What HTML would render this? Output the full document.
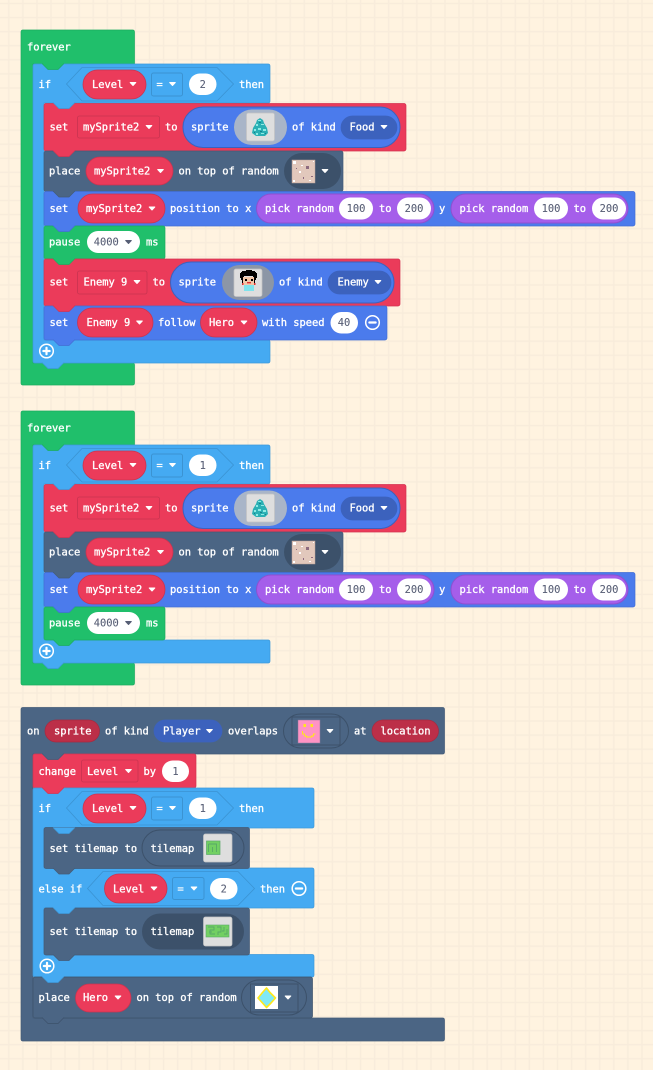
<!DOCTYPE html>
<html><head><meta charset="utf-8"><style>
html,body{margin:0;padding:0;background:#fff3e0}
svg{display:block}
text{font-family:"DejaVu Sans Mono","Liberation Mono",monospace;font-weight:normal;font-size:10.4px;fill:#fff;stroke:#fff;stroke-width:.32px}
text.d{fill:#575e75;stroke:#575e75;stroke-width:.1px;text-anchor:middle}
.G{fill:#20bf6b;stroke:#1dac60;stroke-width:.7}
.L{fill:#45aaf2;stroke:#3e99da;stroke-width:.7}
.R{fill:#eb3b5a;stroke:#d33551;stroke-width:.7}
.S{fill:#4b6584;stroke:#435b77;stroke-width:.7}
.B{fill:#4b7bec;stroke:#436fd4;stroke-width:.7}
.P{fill:#a55eea;stroke:#8f4fd0;stroke-width:1}
.DR{fill:#eb3b5a;stroke:#c93450;stroke-width:.8}
.W{fill:#fff}
.SB{fill:#4b7bec;stroke:#3c62bd;stroke-width:1}
.KB{fill:#3c62bd;stroke:#3c62bd;stroke-width:.7}
.DS{fill:#3c516a}
.OS{fill:none;stroke:#3c516a;stroke-width:1}
.IMG{fill:#dedede;stroke:#c4c4c4;stroke-width:.7}
.HX{fill:#45aaf2;stroke:#3b93d2;stroke-width:.8}
.DL{fill:#45aaf2;stroke:#3b93d2;stroke-width:1}
</style></head><body>
<svg width="653" height="1070" viewBox="0 0 653 1070" xmlns="http://www.w3.org/2000/svg">
<defs>
<pattern id="grid" x="8.8" y="3.5" width="14.07" height="14.07" patternUnits="userSpaceOnUse">
<rect x="-.75" y="0" width="1.5" height="14.07" fill="#f8ecdb"/><rect x="13.32" y="0" width="1.5" height="14.07" fill="#f8ecdb"/>
<rect x="0" y="-.75" width="14.07" height="1.5" fill="#f8ecdb"/><rect x="0" y="13.32" width="14.07" height="1.5" fill="#f8ecdb"/>
</pattern>
<path id="c" d="M-2.8 -1.5h5.6l-2.8 3z" fill="#fff" stroke="#fff" stroke-width="1" stroke-linejoin="round"/>
<path id="k" d="M-2.8 -1.5h5.6l-2.8 3z" fill="#575e75" stroke="#575e75" stroke-width="1" stroke-linejoin="round"/>
<path id="t" d="M0 -.5l6 6h10l6 -6"/>
<g id="food">
<rect x="246.5" y="113" width="28" height="28" rx="2" class="IMG"/>
<polygon points="260,118 263,120 264,123 267,128 268,133 265,136 256,136 252,133 253,128 256,123 257,120" fill="#2ab0b4"/>
<path d="M258 120h3v1h-3zM256 124h2v2h-2zM261 124h3v1h-3zM254 129h2v2h-2zM258 128h3v2h-3zM263 129h3v2h-3zM256 133h2v2h-2zM261 133h3v1h-3z" fill="#8deae4"/>
<path d="M259 122h2v1h-2zM254 132h1v1h-1zM260 131h2v1h-2zM265 133h1v1h-1z" fill="#15808c"/>
</g>
<g id="tile">
<rect x="292" y="160" width="23" height="23" fill="#e2c8bc" stroke="#b9a297" stroke-width=".5"/>
<path d="M293 161h3v3h-3zM301 165h2v1h-2zM293 180h2v2h-2zM309 180h2v1h-2zM299 171h2v2h-2zM313 161h1v1h-1z" fill="#fff"/>
<path d="M306 166h3v3h-3zM296 168h1v1h-1zM303 177h1v2h-1zM311 176h2v1h-2z" fill="#8e6b80"/>
</g>
<g id="minus"><circle r="6.8" fill="none" stroke="#fff" stroke-width="1.5"/><rect x="-4.2" y="-1.1" width="8.4" height="2.2" rx="1" fill="#fff"/></g>
<g id="plus"><circle r="6.8" fill="none" stroke="#fff" stroke-width="1.5"/><rect x="-4.2" y="-1.1" width="8.4" height="2.2" rx="1" fill="#fff"/><rect x="-1.1" y="-4.2" width="2.2" height="8.4" rx="1" fill="#fff"/></g>
</defs>
<rect width="653" height="1070" fill="#fff3e0"/>
<rect width="653" height="1070" fill="url(#grid)"/>

<!-- FOREVER 1 -->
<path class="G" d="M23 30H132.5q2 0 2 2V64H33V363H132.5q2 0 2 2V383q0 2-2 2H23q-2 0-2-2V32q0-2 2-2z"/>
<path class="L" d="M35 64H268q2 0 2 2V101q0 2-2 2H44V340H268q2 0 2 2V361q0 2-2 2H35q-2 0-2-2V66q0-2 2-2z"/>
<rect x="44" y="103.5" width="362" height="47.5" rx="2" class="R"/>
<rect x="44" y="151" width="299" height="40.5" rx="2" class="S"/>
<rect x="44" y="191.5" width="591" height="34.5" rx="2" class="B"/>
<rect x="44" y="226" width="121" height="33" rx="2" class="G"/>
<rect x="44" y="259" width="356" height="47" rx="2" class="R"/>
<rect x="44" y="306" width="343" height="34" rx="2" class="B"/>
<use href="#t" x="42" y="64" class="G"/>
<use href="#t" x="53" y="103" class="L"/>
<use href="#t" x="53" y="151" class="R"/>
<use href="#t" x="53" y="191.5" class="S"/>
<use href="#t" x="53" y="226" class="B"/>
<use href="#t" x="53" y="259" class="G"/>
<use href="#t" x="53" y="306" class="R"/>
<use href="#t" x="53" y="340" class="B"/>
<use href="#t" x="42" y="363" class="L"/>
<text x="27" y="50.5">forever</text>
<text x="38.5" y="88">if</text>
<polygon class="HX" points="66.5,84 82,67.5 217,67.5 233.5,84 217,101 82,101"/>
<rect x="83" y="70" width="63" height="29" rx="14.5" class="DR"/>
<text x="92" y="88">Level</text><use href="#c" x="133" y="84"/>
<rect x="151.5" y="73" width="31" height="23" rx="2" class="DL"/>
<text x="156.5" y="88">=</text><use href="#c" x="172.5" y="84"/>
<rect x="189" y="73.5" width="27.5" height="21.5" rx="10.7" class="W"/>
<text class="d" x="202.7" y="88">2</text>
<text x="239" y="88">then</text>
<text x="49.5" y="130.5">set</text>
<rect x="77.5" y="116" width="82" height="22" rx="2" class="DR"/>
<text x="83" y="130.5">mySprite2</text><use href="#c" x="149" y="127"/>
<text x="165" y="130.5">to</text>
<rect x="183" y="107" width="217" height="40.5" rx="20" class="SB"/>
<text x="191" y="130.5">sprite</text>
<rect x="234" y="109.5" width="53" height="35.5" rx="17.7" fill="#a9b5c8"/>
<use href="#food"/>
<text x="292" y="130.5">of kind</text>
<rect x="341" y="116" width="56" height="23" rx="11.5" class="KB"/>
<text x="349.5" y="130.5">Food</text><use href="#c" x="384" y="127"/>
<text x="49" y="174.5">place</text>
<rect x="86" y="157" width="87" height="28" rx="14" class="DR"/>
<text x="94" y="174.5">mySprite2</text><use href="#c" x="160.5" y="171"/>
<text x="178.5" y="174.5">on top of random</text>
<rect x="284" y="153" width="57" height="36" rx="18" class="DS"/>
<use href="#tile"/><use href="#c" x="325" y="171"/>
<text x="49.5" y="212">set</text>
<rect x="78" y="194" width="87" height="29" rx="14.5" class="DR"/>
<text x="86" y="212">mySprite2</text><use href="#c" x="152" y="208.5"/>
<text x="170" y="212">position to x</text>
<rect x="256.5" y="194" width="177.5" height="29" rx="14.5" class="P"/>
<text x="265" y="212">pick random</text>
<rect x="339" y="197.5" width="34" height="22" rx="11" class="W"/><text class="d" x="356" y="212">100</text>
<text x="379" y="212">to</text>
<rect x="397" y="197.5" width="34" height="22" rx="11" class="W"/><text class="d" x="414" y="212">200</text>
<text x="439" y="212">y</text>
<rect x="451" y="194" width="177" height="29" rx="14.5" class="P"/>
<text x="459.5" y="212">pick random</text>
<rect x="534" y="197.5" width="34" height="22" rx="11" class="W"/><text class="d" x="551" y="212">100</text>
<text x="573.5" y="212">to</text>
<rect x="592" y="197.5" width="34" height="22" rx="11" class="W"/><text class="d" x="609" y="212">200</text>
<text x="49" y="245.5">pause</text>
<rect x="87" y="231" width="53" height="22" rx="11" class="W"/>
<text class="d" x="106.3" y="245.5">4000</text><use href="#k" x="128.5" y="242"/>
<text x="146" y="245.5">ms</text>
<text x="49.5" y="285.5">set</text>
<rect x="77.5" y="271" width="69.5" height="23" rx="2" class="DR"/>
<text x="83.5" y="285.5">Enemy 9</text><use href="#c" x="137" y="282"/>
<text x="152.5" y="285.5">to</text>
<rect x="170.5" y="262" width="223.5" height="41" rx="20.5" class="SB"/>
<text x="178.5" y="285.5">sprite</text>
<rect x="222" y="265" width="52" height="35" rx="17.5" fill="#8c96a6"/>
<rect x="234" y="269" width="28" height="27.5" rx="2" class="IMG"/>
<path d="M243 271h3v-1h6v1h3v1h1v1h1v5h-1v2h-1v3h-1v-6h-1v-1h-9v1h-1v6h-1v-3h-1v-2h-1v-5h1v-1h1v-1h2z" fill="#000"/>
<rect x="243" y="277" width="11" height="8" fill="#f2c6a8"/>
<rect x="245" y="279" width="2" height="2" fill="#000"/><rect x="251" y="279" width="2" height="2" fill="#000"/>
<rect x="247" y="282" width="4" height="1.4" fill="#e03030"/>
<rect x="242" y="283" width="1.5" height="2" fill="#e03030"/><rect x="254" y="283" width="1.5" height="2" fill="#e03030"/>
<rect x="244" y="285" width="10" height="6" fill="#7fe3ec"/>
<text x="279" y="285.5">of kind</text>
<rect x="328" y="271" width="63" height="23" rx="11.5" class="KB"/>
<text x="337.5" y="285.5">Enemy</text><use href="#c" x="378" y="282"/>
<text x="49.5" y="326">set</text>
<rect x="77.5" y="308" width="75.5" height="29" rx="14.5" class="DR"/>
<text x="86.5" y="326">Enemy 9</text><use href="#c" x="139.5" y="322.5"/>
<text x="158" y="326">follow</text>
<rect x="200.5" y="308" width="56.5" height="29" rx="14.5" class="DR"/>
<text x="209" y="326">Hero</text><use href="#c" x="244" y="322.5"/>
<text x="262" y="326">with speed</text>
<rect x="330.5" y="312" width="27.5" height="21.5" rx="10.7" class="W"/>
<text class="d" x="344" y="326">40</text>
<use href="#minus" x="372.5" y="322.5"/>
<use href="#plus" x="46.5" y="351"/>

<!-- FOREVER 2 -->
<path class="G" d="M23 411H132.5q2 0 2 2V445H33V663H132.5q2 0 2 2V683q0 2-2 2H23q-2 0-2-2V413q0-2 2-2z"/>
<path class="L" d="M35 445H268q2 0 2 2V482q0 2-2 2H44V640H268q2 0 2 2V661q0 2-2 2H35q-2 0-2-2V447q0-2 2-2z"/>
<g transform="translate(0,381)">
<rect x="44" y="103.5" width="362" height="47.5" rx="2" class="R"/>
<rect x="44" y="151" width="299" height="40.5" rx="2" class="S"/>
<rect x="44" y="191.5" width="591" height="34.5" rx="2" class="B"/>
<rect x="44" y="226" width="121" height="33" rx="2" class="G"/>
<use href="#t" x="42" y="64" class="G"/>
<use href="#t" x="53" y="103" class="L"/>
<use href="#t" x="53" y="151" class="R"/>
<use href="#t" x="53" y="191.5" class="S"/>
<use href="#t" x="53" y="226" class="B"/>
<use href="#t" x="53" y="259" class="G"/>
<use href="#t" x="42" y="282" class="L"/>
<text x="27" y="50.5">forever</text>
<text x="38.5" y="88">if</text>
<polygon class="HX" points="66.5,84 82,67.5 217,67.5 233.5,84 217,101 82,101"/>
<rect x="83" y="70" width="63" height="29" rx="14.5" class="DR"/>
<text x="92" y="88">Level</text><use href="#c" x="133" y="84"/>
<rect x="151.5" y="73" width="31" height="23" rx="2" class="DL"/>
<text x="156.5" y="88">=</text><use href="#c" x="172.5" y="84"/>
<rect x="189" y="73.5" width="27.5" height="21.5" rx="10.7" class="W"/>
<text class="d" x="202.7" y="88">1</text>
<text x="239" y="88">then</text>
<text x="49.5" y="130.5">set</text>
<rect x="77.5" y="116" width="82" height="22" rx="2" class="DR"/>
<text x="83" y="130.5">mySprite2</text><use href="#c" x="149" y="127"/>
<text x="165" y="130.5">to</text>
<rect x="183" y="107" width="217" height="40.5" rx="20" class="SB"/>
<text x="191" y="130.5">sprite</text>
<rect x="234" y="109.5" width="53" height="35.5" rx="17.7" fill="#a9b5c8"/>
<use href="#food"/>
<text x="292" y="130.5">of kind</text>
<rect x="341" y="116" width="56" height="23" rx="11.5" class="KB"/>
<text x="349.5" y="130.5">Food</text><use href="#c" x="384" y="127"/>
<text x="49" y="174.5">place</text>
<rect x="86" y="157" width="87" height="28" rx="14" class="DR"/>
<text x="94" y="174.5">mySprite2</text><use href="#c" x="160.5" y="171"/>
<text x="178.5" y="174.5">on top of random</text>
<rect x="284" y="153" width="57" height="36" rx="18" class="DS"/>
<use href="#tile"/><use href="#c" x="325" y="171"/>
<text x="49.5" y="212">set</text>
<rect x="78" y="194" width="87" height="29" rx="14.5" class="DR"/>
<text x="86" y="212">mySprite2</text><use href="#c" x="152" y="208.5"/>
<text x="170" y="212">position to x</text>
<rect x="256.5" y="194" width="177.5" height="29" rx="14.5" class="P"/>
<text x="265" y="212">pick random</text>
<rect x="339" y="197.5" width="34" height="22" rx="11" class="W"/><text class="d" x="356" y="212">100</text>
<text x="379" y="212">to</text>
<rect x="397" y="197.5" width="34" height="22" rx="11" class="W"/><text class="d" x="414" y="212">200</text>
<text x="439" y="212">y</text>
<rect x="451" y="194" width="177" height="29" rx="14.5" class="P"/>
<text x="459.5" y="212">pick random</text>
<rect x="534" y="197.5" width="34" height="22" rx="11" class="W"/><text class="d" x="551" y="212">100</text>
<text x="573.5" y="212">to</text>
<rect x="592" y="197.5" width="34" height="22" rx="11" class="W"/><text class="d" x="609" y="212">200</text>
<text x="49" y="245.5">pause</text>
<rect x="87" y="231" width="53" height="22" rx="11" class="W"/>
<text class="d" x="106.3" y="245.5">4000</text><use href="#k" x="128.5" y="242"/>
<text x="146" y="245.5">ms</text>
<use href="#plus" x="46.5" y="270"/>
</g>

<!-- ON OVERLAP -->
<path class="S" d="M23 707.5H442.5q2 0 2 2V752q0 2-2 2H33V1018H442.5q2 0 2 2V1039q0 2-2 2H23q-2 0-2-2V709.5q0-2 2-2z"/>
<rect x="33" y="754" width="163" height="34" rx="2" class="R"/>
<path class="L" d="M35 788H312q2 0 2 2V826q0 2-2 2H44V868H312q2 0 2 2V906q0 2-2 2H44V954.5H312q2 0 2 2V975q0 2-2 2H35q-2 0-2-2V790q0-2 2-2z"/>
<rect x="44" y="827.5" width="205.5" height="41" rx="2" class="S"/>
<rect x="44" y="908" width="205.5" height="47" rx="2" class="S"/>
<rect x="33" y="977" width="279.5" height="41" rx="2" class="S" style="stroke:#3c516a"/>
<use href="#t" x="42" y="754" class="S"/>
<use href="#t" x="42" y="788" class="R"/>
<use href="#t" x="53" y="828" class="L"/>
<use href="#t" x="53" y="868.5" class="S"/>
<use href="#t" x="53" y="908" class="L"/>
<use href="#t" x="53" y="955" class="S"/>
<use href="#t" x="42" y="977" class="L"/>
<use href="#t" x="42" y="1018" class="S" style="stroke:#3c516a"/>
<text x="27" y="734.5">on</text>
<rect x="45" y="720" width="54.5" height="22" rx="11" fill="#bc2f48" stroke="#a8293f" stroke-width=".7"/>
<text x="54" y="734.5">sprite</text>
<text x="105" y="734.5">of kind</text>
<rect x="154" y="720" width="68" height="22" rx="11" class="KB"/>
<text x="163" y="734.5">Player</text><use href="#c" x="209.5" y="731"/>
<text x="228" y="734.5">overlaps</text>
<rect x="283.5" y="714" width="65" height="34" rx="17" class="OS"/>
<rect x="292" y="717" width="48" height="28" class="OS"/>
<rect x="298" y="720" width="22" height="23" fill="#ff93c4" stroke="#8a7a9a" stroke-width=".5"/>
<rect x="303.5" y="724" width="2.5" height="3" fill="#ffe81a"/><rect x="310.5" y="724" width="2.5" height="3" fill="#ffe81a"/>
<path d="M302.5 731v3h2v2h2v1h5v-1h2v-2h2" fill="none" stroke="#ffe81a" stroke-width="1"/>
<use href="#c" x="330" y="731"/>
<text x="354" y="734.5">at</text>
<rect x="372" y="720" width="66.5" height="22" rx="11" fill="#bc2f48" stroke="#a8293f" stroke-width=".7"/>
<text x="380.5" y="734.5">location</text>

<text x="38.5" y="775">change</text>
<rect x="81.5" y="760" width="56.5" height="22" rx="2" class="DR"/>
<text x="87" y="775">Level</text><use href="#c" x="128.5" y="771"/>
<text x="143.5" y="775">by</text>
<rect x="162" y="760.5" width="27" height="21.5" rx="10.7" class="W"/>
<text class="d" x="175.5" y="775">1</text>

<text x="38.5" y="812">if</text>
<polygon class="HX" points="66.5,808 82,791.5 217,791.5 233.5,808 217,825 82,825"/>
<rect x="83" y="794" width="63" height="29" rx="14.5" class="DR"/>
<text x="92" y="812">Level</text><use href="#c" x="133" y="808"/>
<rect x="151.5" y="797" width="31" height="23" rx="2" class="DL"/>
<text x="156.5" y="812">=</text><use href="#c" x="172.5" y="808"/>
<rect x="189" y="797.5" width="27.5" height="21.5" rx="10.7" class="W"/>
<text class="d" x="202.7" y="812">1</text>
<text x="239" y="812">then</text>

<text x="49.5" y="852">set tilemap to</text>
<rect x="142" y="830" width="102" height="36" rx="18" class="OS"/>
<text x="150.5" y="852">tilemap</text>
<rect x="203.5" y="834" width="28.5" height="28" rx="2" class="IMG"/>
<rect x="206.5" y="841" width="13.5" height="13.5" fill="#72d062" stroke="#5aa86a" stroke-width=".7"/>
<path d="M208.5 844h8v8M208.5 844v8M212.5 847v5" fill="none" stroke="#58a868" stroke-width=".9"/>

<text x="38.5" y="892.5">else if</text>
<polygon class="HX" points="87.5,888.5 103,871.5 238,871.5 254.5,888.5 238,905.5 103,905.5"/>
<rect x="104.5" y="874" width="62.5" height="29" rx="14.5" class="DR"/>
<text x="113" y="892.5">Level</text><use href="#c" x="154" y="888.5"/>
<rect x="172.5" y="877.5" width="31.5" height="22" rx="2" class="DL"/>
<text x="177.5" y="892.5">=</text><use href="#c" x="194" y="888.5"/>
<rect x="210" y="878" width="27.5" height="21.5" rx="10.7" class="W"/>
<text class="d" x="223.7" y="892.5">2</text>
<text x="260" y="892.5">then</text>
<use href="#minus" x="299" y="888.5"/>

<text x="49.5" y="935">set tilemap to</text>
<rect x="142" y="913.5" width="102" height="36" rx="18" class="DS"/>
<text x="150.5" y="935">tilemap</text>
<rect x="203.5" y="917" width="28.5" height="29" rx="2" class="IMG"/>
<rect x="206" y="925" width="23" height="12" fill="#72d062" stroke="#5aa86a" stroke-width=".6"/>
<path d="M208 927h6v3h-4v4h5M217 927h4v5h-3v3M224 927v4h-2M209 932h3M224 934h3v-5" fill="none" stroke="#58a868" stroke-width=".9"/>

<use href="#plus" x="47" y="966"/>

<text x="38.5" y="1001">place</text>
<rect x="75.5" y="984" width="55.5" height="28" rx="14" class="DR"/>
<text x="83" y="1001">Hero</text><use href="#c" x="118" y="997.5"/>
<text x="136.5" y="1001">on top of random</text>
<rect x="241.5" y="980" width="65" height="35" rx="17.5" class="OS"/>
<rect x="250.5" y="984" width="47.5" height="28" class="OS"/>
<rect x="255" y="986" width="23" height="23" fill="#fff"/>
<polygon points="266.5,988 270,992.5 275.5,998 271,1003 266.5,1007.5 262.5,1003 258,998 262.5,992.5" fill="#7fe9f5" stroke="#ffe81a" stroke-width="1.6" stroke-linejoin="round"/>
<use href="#c" x="288" y="997.5"/>
</svg>
</body></html>
